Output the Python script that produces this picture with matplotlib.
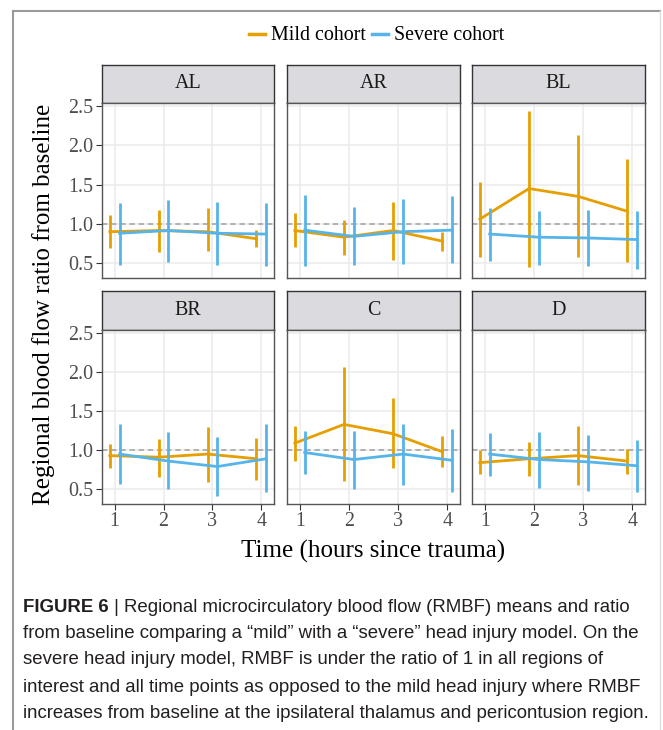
import matplotlib.pyplot as plt
from matplotlib.lines import Line2D
import numpy as np

# ------------------------------------------------------------
# data
# ------------------------------------------------------------
times = [1, 2, 3, 4]
regions = ["AL", "AR", "BL", "BR", "C", "D"]

mild_mean = [
    [0.90, 0.915, 0.90, 0.81],
    [0.915, 0.83, 0.915, 0.78],
    [1.06, 1.45, 1.35, 1.16],
    [0.93, 0.91, 0.95, 0.89],
    [1.09, 1.33, 1.21, 0.98],
    [0.84, 0.89, 0.93, 0.86],
]
mild_lo = [
    [0.69, 0.64, 0.65, 0.70],
    [0.70, 0.60, 0.54, 0.66],
    [0.58, 0.45, 0.58, 0.51],
    [0.77, 0.65, 0.59, 0.62],
    [0.86, 0.61, 0.77, 0.79],
    [0.69, 0.67, 0.55, 0.69],
]
mild_hi = [
    [1.11, 1.18, 1.20, 0.92],
    [1.14, 1.05, 1.28, 0.90],
    [1.53, 2.44, 2.13, 1.83],
    [1.08, 1.14, 1.30, 1.15],
    [1.31, 2.06, 1.67, 1.18],
    [1.00, 1.10, 1.31, 1.01],
]

severe_mean = [
    [0.88, 0.915, 0.88, 0.87],
    [0.92, 0.84, 0.90, 0.92],
    [0.87, 0.83, 0.82, 0.80],
    [0.95, 0.86, 0.79, 0.89],
    [0.97, 0.88, 0.95, 0.87],
    [0.95, 0.88, 0.85, 0.80],
]
severe_lo = [
    [0.47, 0.51, 0.47, 0.46],
    [0.46, 0.47, 0.49, 0.50],
    [0.53, 0.48, 0.46, 0.43],
    [0.56, 0.50, 0.41, 0.46],
    [0.69, 0.50, 0.55, 0.47],
    [0.67, 0.51, 0.48, 0.46],
]
severe_hi = [
    [1.27, 1.31, 1.28, 1.26],
    [1.37, 1.21, 1.32, 1.35],
    [1.20, 1.17, 1.18, 1.17],
    [1.33, 1.23, 1.17, 1.33],
    [1.25, 1.25, 1.34, 1.27],
    [1.22, 1.23, 1.20, 1.13],
]

yticks = [0.5, 1.0, 1.5, 2.0, 2.5]
ytick_labels = ["0.5", "1.0", "1.5", "2.0", "2.5"]

caption_bold = "FIGURE 6"
caption_first = " | Regional microcirculatory blood flow (RMBF) means and ratio"
caption_rest = [
    "from baseline comparing a \u201cmild\u201d with a \u201csevere\u201d head injury model. On the",
    "severe head injury model, RMBF is under the ratio of 1 in all regions of",
    "interest and all time points as opposed to the mild head injury where RMBF",
    "increases from baseline at the ipsilateral thalamus and pericontusion region.",
]

MILD = "#E69F00"
SEVERE = "#56B4E9"
SERIF = "Liberation Serif"
CAP_FONT = "Liberation Sans"

# ------------------------------------------------------------
# layout in pixels
# ------------------------------------------------------------
W, H = 663, 730
fig = plt.figure(figsize=(W / 100, H / 100), dpi=100)
fig.patch.set_facecolor("white")

cols = [(102, 274), (287, 460), (472, 645)]
strips = [(65, 103), (291, 330)]
panels = [(103, 278), (330, 504)]


def px_axes(x0, y0, x1, y1):
    return fig.add_axes([x0 / W, 1 - y1 / H, (x1 - x0) / W, (y1 - y0) / H])


dodge = 0.1
lw = 2.0
for i, reg in enumerate(regions):
    r, c = divmod(i, 3)

    # strip
    sax = px_axes(cols[c][0], strips[r][0], cols[c][1], strips[r][1])
    sax.set_facecolor("#DBDADF")
    sax.set_xticks([])
    sax.set_yticks([])
    for sp in sax.spines.values():
        sp.set_color("#333333")
        sp.set_linewidth(1.0)
    sax.text(0.5, 0.5, reg, ha="center", va="center", fontsize=14.4,
             family=SERIF, color="#1A1A1A", transform=sax.transAxes)

    # panel
    ax = px_axes(cols[c][0], panels[r][0], cols[c][1], panels[r][1])
    ax.set_xlim(0.74, 4.26)
    ax.set_ylim(0.31, 2.54)
    ax.set_xticks(times)
    ax.set_yticks(yticks)
    ax.grid(True, color="#EBEBEB", linewidth=1.1)
    ax.set_axisbelow(True)
    ax.axhline(1.0, color="#A0A0A0", linestyle=(0, (3.5, 2.5)), linewidth=1.1, zorder=1)

    xm = np.array(times) - dodge
    xs = np.array(times) + dodge
    ax.vlines(xm, mild_lo[i], mild_hi[i], color=MILD, linewidth=lw, zorder=2)
    ax.plot(xm, mild_mean[i], color=MILD, linewidth=lw, zorder=2)
    ax.vlines(xs, severe_lo[i], severe_hi[i], color=SEVERE, linewidth=lw, zorder=3)
    ax.plot(xs, severe_mean[i], color=SEVERE, linewidth=lw, zorder=3)

    for sp in ax.spines.values():
        sp.set_color("#555555")
        sp.set_linewidth(1.0)
    ax.tick_params(length=4, width=0.8, color="#333333", labelcolor="#4D4D4D",
                   labelsize=14.4, pad=2)
    for lab in ax.get_xticklabels() + ax.get_yticklabels():
        lab.set_family(SERIF)
    if c == 0:
        ax.set_yticklabels(ytick_labels)
    else:
        ax.tick_params(left=False, labelleft=False)
    if r == 0:
        ax.tick_params(bottom=False, labelbottom=False)

# axis titles
fig.text(44 / W, 1 - 304 / H, "Regional blood flow ratio from baseline", rotation=90,
         ha="center", va="center", fontsize=18, family=SERIF, color="black")
fig.text(373 / W, 1 - 551 / H, "Time (hours since trauma)",
         ha="center", va="center", fontsize=18, family=SERIF, color="black")

# legend
handles = [Line2D([], [], color=MILD, linewidth=2.5),
           Line2D([], [], color=SEVERE, linewidth=2.5)]
fig.legend(handles, ["Mild cohort", "Severe cohort"], loc="center",
           bbox_to_anchor=(377 / W, 1 - 36 / H), ncol=2, frameon=False,
           handlelength=0.8, handletextpad=0.3, columnspacing=0.3,
           prop={"family": SERIF, "size": 14.4})

# outer frame
fig.add_artist(Line2D([13 / W, 13 / W], [0, 1 - 11 / H], color="#9A9A9A", linewidth=1.5))
fig.add_artist(Line2D([13 / W, 660 / W], [1 - 11 / H, 1 - 11 / H], color="#9A9A9A", linewidth=1.5))
fig.add_artist(Line2D([660 / W, 660 / W], [0, 1 - 11 / H], color="#DDDDDD", linewidth=1.0))

# caption
cap_x = 23
cap_size = 13.4
cap_y = [607, 634, 660, 687, 713]
t0 = fig.text(cap_x / W, 1 - cap_y[0] / H, caption_bold, ha="left", va="center",
              fontsize=cap_size, fontweight="bold", family=CAP_FONT, color="#231F20")
fig.canvas.draw()
bb = t0.get_window_extent()
fig.text(bb.x1 / W, 1 - cap_y[0] / H, caption_first, ha="left", va="center",
         fontsize=cap_size, family=CAP_FONT, color="#231F20")
for line, y in zip(caption_rest, cap_y[1:]):
    fig.text(cap_x / W, 1 - y / H, line, ha="left", va="center",
             fontsize=cap_size, family=CAP_FONT, color="#231F20")

fig.savefig("out.png", dpi=100)
